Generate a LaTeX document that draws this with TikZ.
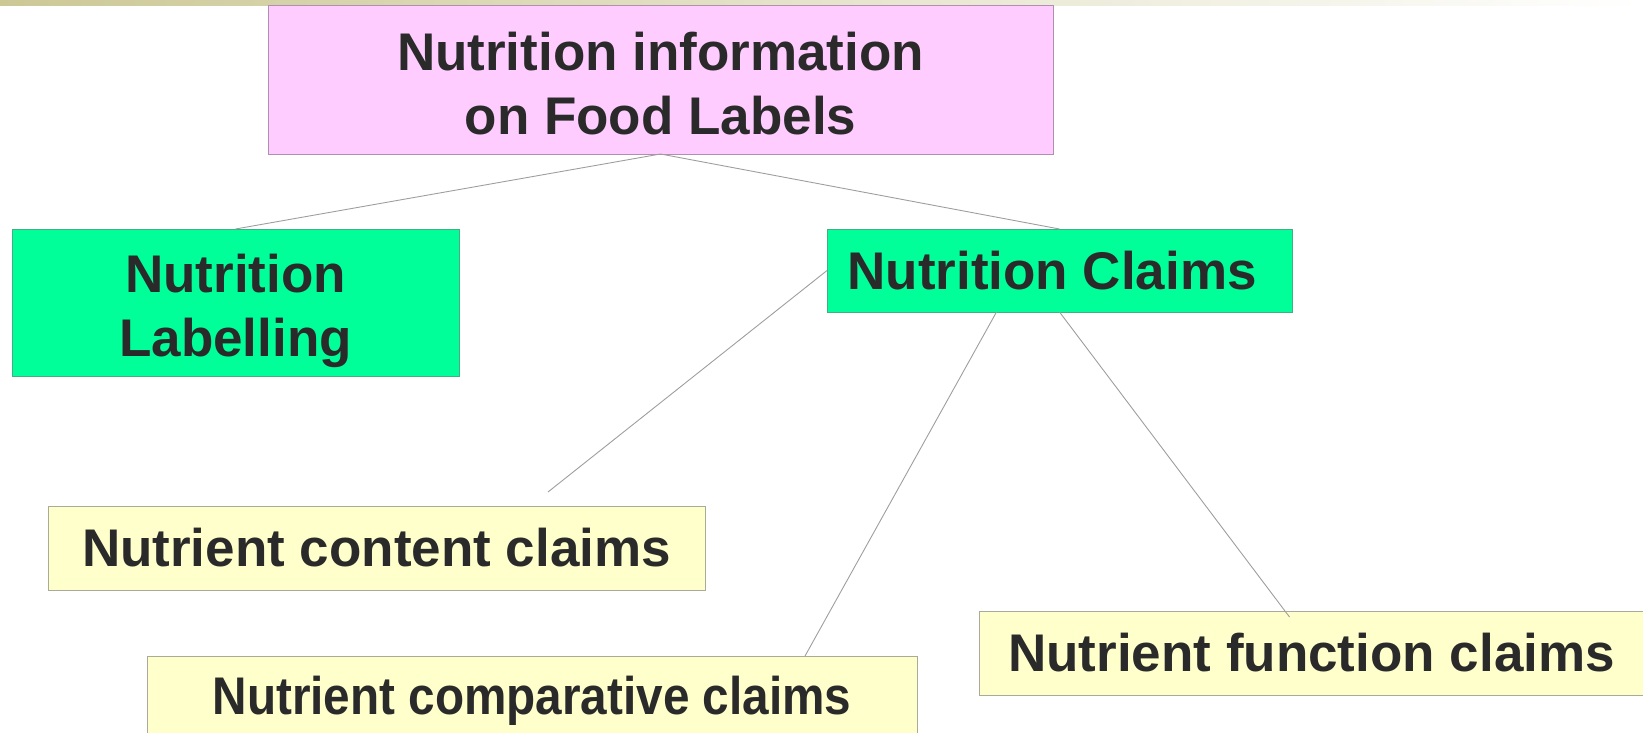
\documentclass[tikz,border=0pt]{standalone}
\usepackage{fontspec}
\setmainfont{Liberation Sans}
\usepackage{graphicx}
\definecolor{stripolive}{HTML}{CCC896}
\definecolor{titlefill}{HTML}{FFCCFF}
\definecolor{titleline}{HTML}{B090B0}
\definecolor{claimfill}{HTML}{00FF99}
\definecolor{claimline}{HTML}{40B083}
\definecolor{kindfill}{HTML}{FFFFCC}
\definecolor{kindline}{HTML}{AAAA98}
\definecolor{inktext}{HTML}{2A2A2A}
\newcommand{\twolines}[2]{\raisebox{-9.5pt}[\height][\depth]{\begin{tabular}{@{}c@{}}#1\\#2\end{tabular}}}
\tikzset{
  box/.style={rectangle, draw, line width=1pt, inner sep=0pt, outer sep=0pt,
    text=inktext, font=\fontsize{53}{64}\selectfont\bfseries},
  titlebox/.style={box, fill=titlefill, draw=titleline},
  claimbox/.style={box, fill=claimfill, draw=claimline},
  kindbox/.style={box, fill=kindfill, draw=kindline},
  link/.style={draw=black!38, line width=0.9pt}
}
\begin{document}
\begin{tikzpicture}[x=1pt,y=-1pt]
      \useasboundingbox (0,0) rectangle (1643,733);
      \fill[left color=stripolive, right color=white] (0,0) rectangle (1643,6);
      \draw
        (660.5,80) node[titlebox, minimum width=785pt, minimum height=148pt] (info){\twolines{Nutrition information}{on Food Labels}}
        (235.5,302.5) node[claimbox, minimum width=447pt, minimum height=147pt] (labelling){\twolines{Nutrition}{Labelling}}
        (1059.5,270.5) node[claimbox, minimum width=465pt, minimum height=83pt] (claims){Nutrition Claims\hspace*{14.7pt}}
        (376.5,548) node[kindbox, minimum width=657pt, minimum height=84pt] (content){Nutrient content claims}
        (532,698) node[kindbox, minimum width=770pt, minimum height=84pt] (comparative){\raisebox{-3pt}[\height][\depth]{\scalebox{0.9}[1]{Nutrient comparative claims}}}
        (1311.5,653) node[kindbox, minimum width=665pt, minimum height=84pt] (function){Nutrient function claims};
      \coordinate (contentend) at (548,492);
      \begin{scope}[link]
        \draw (info.south) to (labelling.north);
        \draw (info.south) to (claims.north);
        \draw (claims.west) to (contentend);
        \draw ([xshift=-63pt]claims.south) to ([xshift=273pt]comparative.north);
        \draw (claims.south) to ([xshift=-22pt,yshift=-6pt]function.north);
      \end{scope}
    \end{tikzpicture}
\end{document}
